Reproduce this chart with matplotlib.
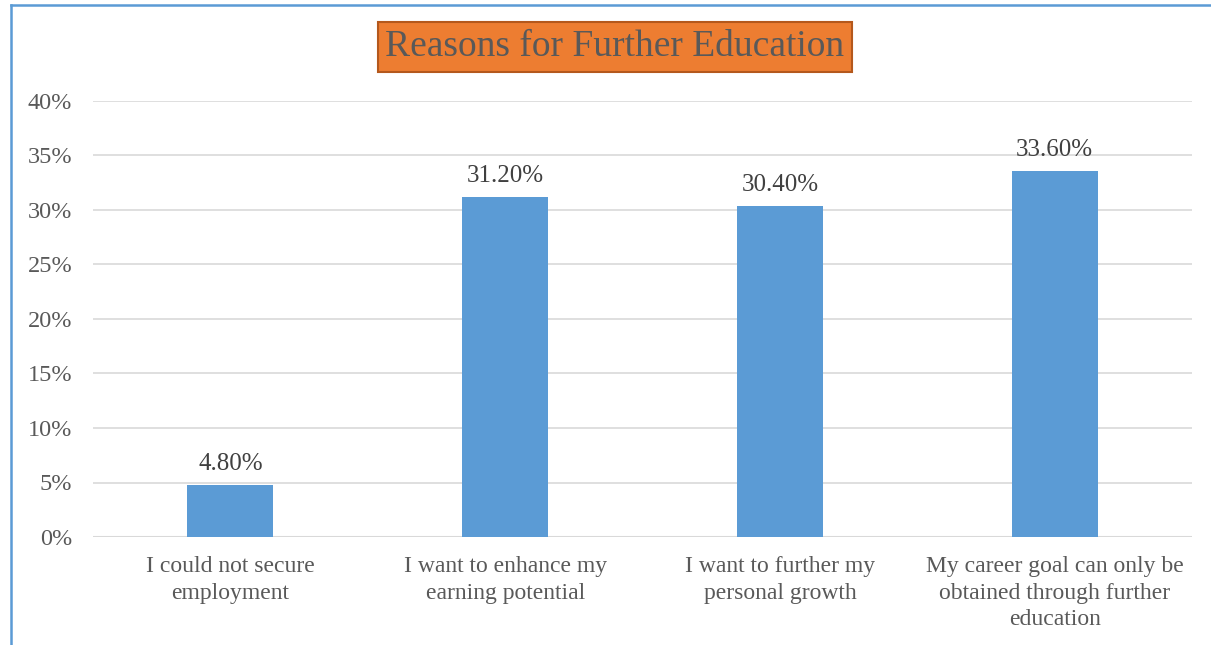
import matplotlib.pyplot as plt
from matplotlib.lines import Line2D
import numpy as np

categories = [
    "I could not secure\nemployment",
    "I want to enhance my\nearning potential",
    "I want to further my\npersonal growth",
    "My career goal can only be\nobtained through further\neducation",
]
values = [4.8, 31.2, 30.4, 33.6]
yticks = [0, 5, 10, 15, 20, 25, 30, 35, 40]

grey = "#595959"
bar_blue = "#5B9BD5"

plt.rcParams["font.family"] = ["Liberation Serif", "DejaVu Serif"]

fig = plt.figure(figsize=(12.11, 6.45), dpi=100)
W, H = 1211, 645
ax = fig.add_axes([93 / W, 1 - 537 / H, (1192 - 93) / W, (537 - 101) / H])

x = np.arange(len(categories))
ax.bar(x, values, width=0.313, color=bar_blue, zorder=3)

for xi, v in zip(x, values):
    ax.annotate(f"{v:.2f}%", (xi, v), xytext=(0, 7), textcoords="offset points",
                ha="center", va="bottom", fontsize=18, color="#404040")

ax.set_xlim(-0.5, len(categories) - 0.5)
ax.set_ylim(0, 40)
ax.set_yticks(yticks)
ax.set_yticklabels([f"{t}%" for t in yticks], fontsize=17.5, color=grey)
ax.set_xticks(x)
ax.set_xticklabels(categories, fontsize=17, color=grey, linespacing=1.32)
ax.tick_params(axis="both", length=0)
ax.tick_params(axis="y", pad=15)
ax.tick_params(axis="x", pad=14)
ax.grid(axis="y", color="#D9D9D9", linewidth=1.2, zorder=0)
for s in ax.spines.values():
    s.set_visible(False)
ax.axhline(0, color="#D9D9D9", linewidth=1.5, zorder=2)

# title in an orange box
fig.text(615 / W, 1 - 47 / H, "Reasons for Further Education", ha="center", va="center",
         fontsize=27, color=grey,
         bbox=dict(boxstyle="square,pad=0.2", facecolor="#ED7D31", edgecolor="#B4581C",
                   linewidth=1.5))

# chart frame (left and top edges)
fig.add_artist(Line2D([11 / W, 11 / W], [0, 1 - 5 / H], color=bar_blue, linewidth=1.8))
fig.add_artist(Line2D([11 / W, 1], [1 - 5 / H, 1 - 5 / H], color=bar_blue, linewidth=1.8))

# tail of the caption text above the frame
fig.text(40 / W, 1 + 14 / H, "g", fontsize=20, color="black", va="bottom")

fig.savefig("out.png", dpi=100)
